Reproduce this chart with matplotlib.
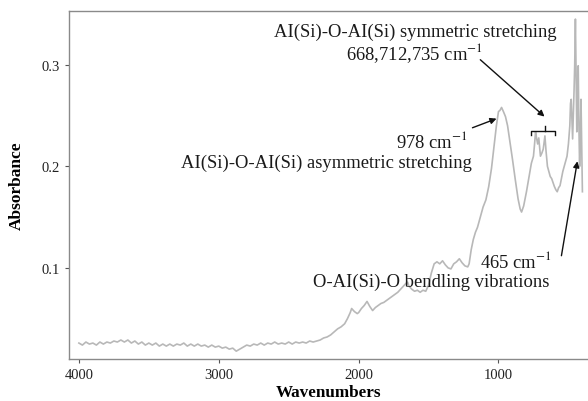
import numpy as np
import matplotlib
matplotlib.use("Agg")
import matplotlib.pyplot as plt

# FTIR spectrum (wavenumber, absorbance)
wavenumbers = [
    4000, 3975, 3950, 3925, 3900, 3875, 3850, 3825, 3800, 3775, 3750, 3725,
    3700, 3675, 3650, 3625, 3600, 3575, 3550, 3525, 3500, 3475, 3450, 3425,
    3400, 3375, 3350, 3325, 3300, 3275, 3250, 3225, 3200, 3175, 3150, 3125,
    3100, 3075, 3050, 3025, 3000, 2975, 2950, 2925, 2900, 2875, 2850, 2825,
    2800, 2775, 2750, 2725, 2700, 2675, 2650, 2625, 2600, 2575, 2550, 2525,
    2500, 2475, 2450, 2425, 2400, 2375, 2350, 2325, 2300, 2275, 2250, 2225,
    2200, 2175, 2150, 2125, 2100, 2080, 2060, 2050, 2030, 2010, 2000, 1980,
    1960, 1940, 1920, 1900, 1880, 1860, 1840, 1820, 1800, 1780, 1760, 1740,
    1720, 1700, 1680, 1660, 1650, 1640, 1620, 1600, 1580, 1560, 1540, 1520,
    1500, 1480, 1460, 1440, 1420, 1400, 1380, 1360, 1340, 1320, 1300, 1280,
    1260, 1240, 1220, 1210, 1195, 1180, 1165, 1150, 1130, 1110, 1090, 1070,
    1050, 1030, 1015, 1000, 990, 978, 965, 950, 935, 920, 900, 880,
    860, 845, 835, 820, 800, 780, 765, 750, 742, 735, 728, 720,
    712, 705, 700, 690, 680, 668, 660, 650, 640, 630, 620, 610,
    600, 590, 580, 570, 560, 550, 540, 530, 520, 510, 500, 490,
    485, 480, 475, 470, 465, 460, 455, 450, 445, 440, 435, 430,
    425, 420, 415, 410, 405, 400,
]
absorbance = [
    .026, .024, .027, .025, .026, .024, .027, .025, .027, .026, .028, .027,
    .029, .027, .029, .026, .028, .025, .027, .024, .026, .024, .026, .023,
    .025, .023, .025, .023, .025, .024, .026, .023, .025, .023, .025, .023,
    .024, .022, .024, .022, .023, .021, .022, .020, .021, .018, .020, .022,
    .024, .023, .025, .024, .026, .024, .026, .025, .027, .025, .026, .025,
    .027, .025, .027, .026, .027, .026, .028, .027, .028, .029, .031, .032,
    .034, .037, .040, .042, .045, .050, .056, .060, .057, .055, .056, .060,
    .063, .067, .062, .058, .061, .063, .065, .066, .068, .070, .072, .074,
    .076, .079, .082, .085, .086, .082, .079, .077, .078, .076, .078, .077,
    .083, .095, .104, .106, .104, .107, .103, .100, .099, .104, .106, .109,
    .105, .102, .101, .104, .118, .128, .135, .140, .150, .160, .167, .180,
    .198, .222, .240, .254, .255, .258, .254, .249, .240, .226, .207, .187,
    .168, .158, .155, .161, .175, .191, .203, .210, .222, .234, .228, .222,
    .228, .218, .210, .213, .217, .230, .215, .200, .195, .190, .188, .184,
    .180, .177, .175, .179, .181, .188, .195, .200, .205, .210, .222, .240,
    .262, .266, .245, .227, .250, .273, .300, .345, .290, .234, .270, .299,
    .240, .200, .230, .266, .220, .175,
]

x_ticks = [4000, 3000, 2000, 1000]
y_ticks = [0.1, 0.2, 0.3]

plt.rcParams['font.family'] = ['Liberation Serif', 'DejaVu Serif']
plt.rcParams['mathtext.fontset'] = 'stix'

fig = plt.figure(figsize=(5.88, 4.02), dpi=100)
ax = fig.add_axes([0.1173, 0.1045, 0.8827, 0.8657])

ax.plot(wavenumbers, absorbance, color='#b8b8b8', lw=1.2)

ax.set_xlim(4071, 360)
ax.set_ylim(0.0103, 0.353)
ax.set_xticks(x_ticks)
ax.set_yticks(y_ticks)
ax.set_xticklabels([str(t) for t in x_ticks])
ax.set_yticklabels(['0.1', '0.2', '0.3'])
ax.tick_params(colors='#555555', labelcolor='#222222', labelsize=10.5,
               length=3, width=0.8)
for s in ['left', 'bottom', 'top']:
    ax.spines[s].set_color('#8a8a8a')
    ax.spines[s].set_linewidth(1.0)
ax.spines['right'].set_visible(False)

ax.set_xlabel('Wavenumbers', fontsize=12.3, fontweight='bold', labelpad=2)
ax.set_ylabel('Absorbance', fontsize=12.5, fontweight='bold', labelpad=12)

txt = dict(fontsize=13.4, color='#1a1a1a')
arrow = dict(arrowstyle='-|>', color='#111111', lw=1.0,
             mutation_scale=9, shrinkA=0, shrinkB=0)

# symmetric stretching label + bracket
ax.text(1598, 0.3325, 'AI(Si)-O-AI(Si) symmetric stretching', ha='center', va='center', **txt)
ax.text(1598, 0.3125, '668,712,735 cm$^{-1}$', ha='center', va='center', **txt)
ax.annotate('', xy=(671, 0.249), xytext=(1130, 0.305), arrowprops=arrow)
ax.plot([764, 764, 593, 593], [0.231, 0.235, 0.235, 0.231], color='#111111', lw=1.0)
ax.plot([671, 671], [0.235, 0.240], color='#111111', lw=1.0)

# asymmetric stretching
ax.text(1221, 0.225, '978 cm$^{-1}$', ha='right', va='center', **txt)
ax.text(1193, 0.2044, 'AI(Si)-O-AI(Si) asymmetric stretching', ha='right', va='center', **txt)
ax.annotate('', xy=(1014, 0.247), xytext=(1186, 0.238), arrowprops=arrow)

# bending vibrations
ax.text(621, 0.107, '465 cm$^{-1}$', ha='right', va='center', **txt)
ax.text(636, 0.0872, 'O-AI(Si)-O bendling vibrations', ha='right', va='center', **txt)
ax.annotate('', xy=(436, 0.205), xytext=(550, 0.112), arrowprops=arrow)

fig.savefig('out.png', dpi=100)
